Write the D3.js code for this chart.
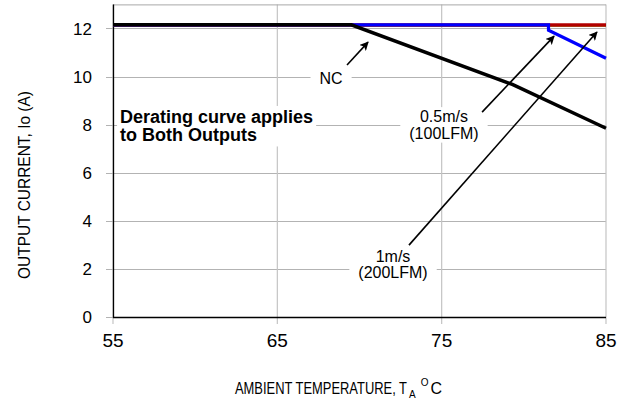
<!DOCTYPE html>
<html>
<head>
<meta charset="utf-8">
<script src="https://cdn.jsdelivr.net/npm/d3@7/dist/d3.min.js"></script>
<style>
  html, body { margin: 0; padding: 0; background: #fff; }
  svg { display: block; font-family: "Liberation Sans", Arial, Helvetica, sans-serif; }
</style>
</head>
<body>
<svg id="chart" width="629" height="405"></svg>
<script>
// Axis ticks
const xTicks = [55, 65, 75, 85];
const yTicks = [0, 2, 4, 6, 8, 10, 12];

// Derating curves: ambient temperature (°C) vs output current (A)
const ncTemp = [55, 69.5, 79.3, 85];          // natural convection
const ncCurrent = [12.15, 12.15, 9.67, 7.85];
const halfTemp = [55, 81.5, 81.5, 85];        // 0.5 m/s (100 LFM)
const halfCurrent = [12.15, 12.15, 11.93, 10.76];
const oneTemp = [55, 85];                     // 1 m/s (200 LFM)
const oneCurrent = [12.15, 12.15];
const limitTemp = [55, 85];                   // current limit trace
const limitCurrent = [12.08, 12.08];

// Callouts: label lines, label anchor and arrow tail/tip in data units
const calloutLines = [["NC"], ["0.5m/s", "(100LFM)"], ["1m/s", "(200LFM)"]];
const calloutAt = [[68.27, 9.90], [75.14, 8.0], [72.04, 2.2]];
const arrowFrom = [[69.24, 10.48], [77.46, 8.52], [73.01, 2.99]];
const arrowTo = [[70.52, 11.43], [81.84, 11.68], [84.45, 11.85]];
const noteLines = ["Derating curve applies", "to Both Outputs"];
const noteAt = [55.43, 8.07];

const svg = d3.select("#chart");
const m = { left: 113, right: 606, top: 4.4, bottom: 317 };

const x = d3.scaleLinear().domain([55, 85]).range([m.left, m.right]);
const y = d3.scaleLinear().domain([0, 13]).range([m.bottom, m.top]);

const defs = svg.append("defs");
defs.append("marker")
  .attr("id", "arrow").attr("viewBox", "0 0 10 10")
  .attr("refX", 9).attr("refY", 5)
  .attr("markerWidth", 9).attr("markerHeight", 9)
  .attr("markerUnits", "userSpaceOnUse")
  .attr("orient", "auto")
  .append("path").attr("d", "M0,0 L10,5 L0,10 L2.5,5 Z").attr("fill", "#000");

// Frame (top/right) and gridlines
const grid = svg.append("g");
grid.selectAll(".hg").data(yTicks.filter(d => d > 0)).join("line")
  .attr("x1", m.left - 7).attr("x2", m.right)
  .attr("y1", d => Math.round(y(d)) + 0.5).attr("y2", d => Math.round(y(d)) + 0.5)
  .attr("stroke", "#b3b3b3").attr("stroke-width", 1);
grid.append("line")
  .attr("x1", m.left - 7).attr("x2", m.left)
  .attr("y1", m.bottom + 0.5).attr("y2", m.bottom + 0.5)
  .attr("stroke", "#b3b3b3");
grid.selectAll(".vg").data(xTicks).join("line")
  .attr("x1", d => x(d)).attr("x2", d => x(d))
  .attr("y1", m.top).attr("y2", m.bottom + 7)
  .attr("stroke", "#c4c4c4").attr("stroke-width", 1.2);
grid.append("line")
  .attr("x1", m.left).attr("x2", m.right)
  .attr("y1", m.top + 0.5).attr("y2", m.top + 0.5)
  .attr("stroke", "#a8a8a8");

// Axis lines
svg.append("line")
  .attr("x1", m.left + 0.5).attr("x2", m.left + 0.5)
  .attr("y1", m.top).attr("y2", m.bottom + 1)
  .attr("stroke", "#000").attr("stroke-width", 1.3);
svg.append("line")
  .attr("x1", m.left).attr("x2", m.right)
  .attr("y1", m.bottom + 0.5).attr("y2", m.bottom + 0.5)
  .attr("stroke", "#000").attr("stroke-width", 1.3);

// Tick labels
svg.append("g").selectAll("text").data(yTicks).join("text")
  .attr("x", 92).attr("y", d => y(d))
  .attr("dy", "0.36em")
  .attr("text-anchor", "end")
  .attr("font-size", 17)
  .text(d => d);
svg.append("g").selectAll("text").data(xTicks).join("text")
  .attr("x", d => x(d)).attr("y", 347)
  .attr("text-anchor", "middle")
  .attr("font-size", 19)
  .text(d => d);

// Text boxes (white background hides gridlines)
function boxedLines(g, lines, cx, cy, lineH, anchor, fontSize, weight, pad) {
  const t = g.append("text")
    .attr("font-size", fontSize).attr("font-weight", weight)
    .attr("text-anchor", anchor);
  lines.forEach((s, i) => {
    t.append("tspan").attr("x", cx).attr("y", cy + i * lineH).text(s);
  });
  const b = t.node().getBBox();
  g.insert("rect", "text")
    .attr("x", b.x - pad[0]).attr("y", b.y - pad[1])
    .attr("width", b.width + 2 * pad[0]).attr("height", b.height + 2 * pad[1])
    .attr("fill", "#fff");
}

const noteG = svg.append("g");
boxedLines(noteG, noteLines, x(noteAt[0]), y(noteAt[1]), 18.5, "start", 18, "bold", [3, 1]);

const callG = svg.append("g");
calloutLines.forEach((lines, i) => {
  const g = callG.append("g");
  const [t, c] = calloutAt[i];
  boxedLines(g, lines, x(t), y(c) - (lines.length - 1) * 8 + 5.5, 16.5, "middle", 16, "normal", [9, 1]);
});

// Curves
const line = d3.line().x(d => x(d[0])).y(d => y(d[1]));
const zipped = (a, b) => a.map((v, i) => [v, b[i]]);
const curves = [
  { t: limitTemp, c: limitCurrent, color: "#a0702a", w: 1.2 },
  { t: oneTemp, c: oneCurrent, color: "#b20000", w: 3.2 },
  { t: halfTemp, c: halfCurrent, color: "#0000ff", w: 3.2 },
  { t: ncTemp, c: ncCurrent, color: "#000000", w: 3.5 }
];
svg.append("g").selectAll("path").data(curves).join("path")
  .attr("d", d => line(zipped(d.t, d.c)))
  .attr("fill", "none")
  .attr("stroke", d => d.color)
  .attr("stroke-width", d => d.w)
  .attr("stroke-linejoin", "miter");

// Callout arrows
svg.append("g").selectAll("line").data(arrowFrom).join("line")
  .attr("x1", d => x(d[0])).attr("y1", d => y(d[1]))
  .attr("x2", (d, i) => x(arrowTo[i][0])).attr("y2", (d, i) => y(arrowTo[i][1]))
  .attr("stroke", "#000").attr("stroke-width", 1.6)
  .attr("marker-end", "url(#arrow)");

// Axis titles
svg.append("text")
  .attr("transform", "translate(30,185) rotate(-90)")
  .attr("text-anchor", "middle")
  .attr("font-size", 17)
  .attr("textLength", 188).attr("lengthAdjust", "spacingAndGlyphs")
  .text("OUTPUT CURRENT, Io (A)");

// x title: main run, then subscript A, superscript O and C, each placed after the previous
const xTitle = svg.append("g");
const xMain = xTitle.append("text").attr("x", 235).attr("y", 394).attr("font-size", 17)
  .attr("textLength", 172).attr("lengthAdjust", "spacingAndGlyphs")
  .text("AMBIENT TEMPERATURE, T");
let cursor = 235 + 172 + 2;
const xSub = xTitle.append("text").attr("x", cursor).attr("y", 398).attr("font-size", 10).text("A");
cursor += xSub.node().getComputedTextLength() + 5;
const xSup = xTitle.append("text").attr("x", cursor).attr("y", 386).attr("font-size", 10).text("O");
cursor += xSup.node().getComputedTextLength() + 2;
xTitle.append("text").attr("x", cursor).attr("y", 394).attr("font-size", 16).text("C");
</script>
</body>
</html>
